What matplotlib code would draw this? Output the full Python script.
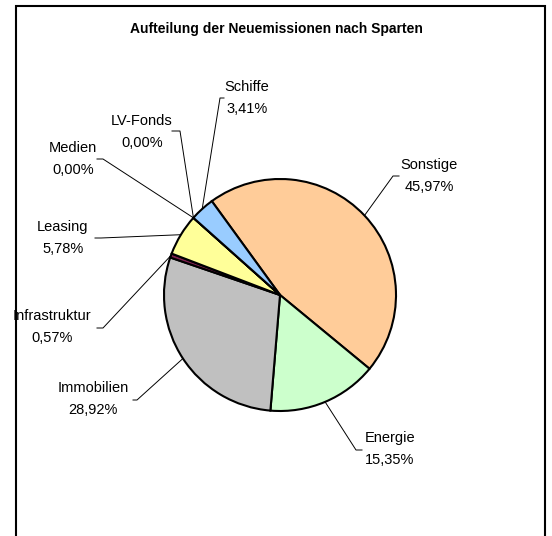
import numpy as np
import matplotlib
matplotlib.use("Agg")
import matplotlib.pyplot as plt

# data (clockwise order as in the chart)
sparten = ["Sonstige", "Energie", "Immobilien", "Infrastruktur",
           "Leasing", "Medien", "LV-Fonds", "Schiffe"]
anteile = [45.97, 15.35, 28.92, 0.57, 5.78, 0.00, 0.00, 3.41]
farben = ["#FFCC99", "#CCFFCC", "#C0C0C0", "#802050",
          "#FFFF99", "#9999FF", "#993366", "#99CCFF"]
titel = "Aufteilung der Neuemissionen nach Sparten"

W, H = 552, 536

# label layout in pixels (from top-left): text centre, elbow, tick end
layout = {
    "Sonstige":      ((429, 176), (393, 176), (399, 176)),
    "Energie":       ((390, 449), (356, 450), (362, 450)),
    "Immobilien":    ((93, 399), (137, 400), (133, 400)),
    "Infrastruktur": ((52, 327), (103, 328), (97, 328)),
    "Leasing":       ((63, 238), (101, 238), (95, 238)),
    "Medien":        ((73, 159), (103, 159), (97, 159)),
    "LV-Fonds":      ((142, 132), (180, 131), (172, 131)),
    "Schiffe":       ((247, 98), (220, 98), (224, 98)),
}

def px(p):
    return p[0], H - p[1]

plt.rcParams['font.family'] = ['Liberation Sans', 'DejaVu Sans']

fig = plt.figure(figsize=(W / 100, H / 100), dpi=100)
ax = fig.add_axes([0, 0, 1, 1])

cx, cy = px((280, 295))
r = 116
wedges, _ = ax.pie(anteile, colors=farben, startangle=126, counterclock=False,
                   center=(cx, cy), radius=r,
                   wedgeprops=dict(edgecolor="black", linewidth=1.5))

ax.set_xlim(0, W)
ax.set_ylim(0, H)
ax.set_aspect("equal")
ax.axis("off")

for w, name, val in zip(wedges, sparten, anteile):
    mid = np.deg2rad((w.theta1 + w.theta2) / 2)
    ex, ey = cx + r * np.cos(mid), cy + r * np.sin(mid)
    txt, elbow, tick = layout[name]
    bx, by = px(elbow)
    tx, ty = px(tick)
    ax.plot([ex, bx, tx], [ey, by, ty], color="black", lw=0.7)
    lx, ly = px(txt)
    ax.text(lx, ly, f"{name}\n{val:.2f}%".replace(".", ","), ha="center", va="center",
            fontsize=10.5, linespacing=1.75, multialignment="center")

ax.text(276, H - 29, titel, ha="center", va="center", fontsize=10, fontweight="bold")

# chart frame (bottom edge lies outside the picture)
ax.plot([16, 16, 545, 545], [-10, H - 6, H - 6, -10], color="black", lw=1.5,
        clip_on=False, solid_joinstyle="miter")

fig.savefig("out.png", dpi=100)
